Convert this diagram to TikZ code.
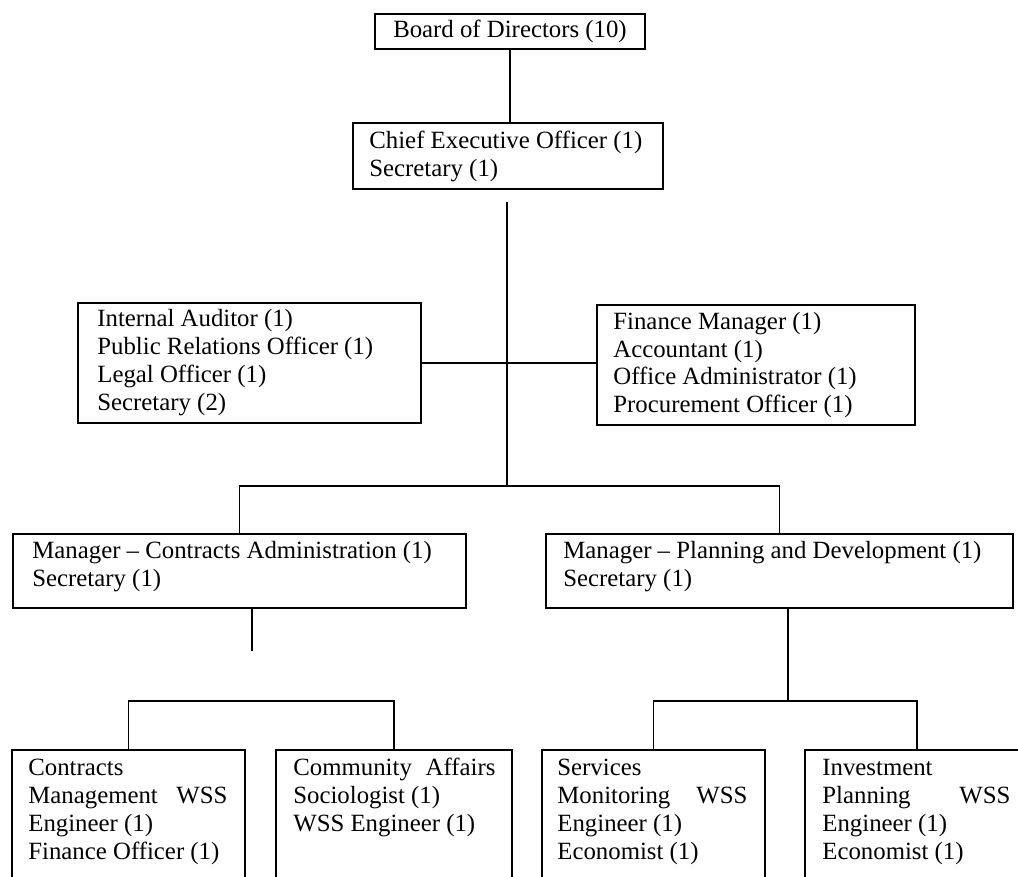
\documentclass[tikz,border=0pt]{standalone}
\usepackage{fontspec}
\setmainfont{Liberation Serif}
\begin{document}
\begin{tikzpicture}[x=0.5pt,y=-0.5pt,
  box/.style={draw, line width=0.8pt, inner sep=0pt},
  txt/.style={inner sep=0pt, anchor=base west, font=\fontsize{12.4pt}{14pt}\selectfont},
  conn/.style={line width=0.8pt}]
\clip (0,0) rectangle (1018,877);
% boxes
\node[box, minimum width=135pt, minimum height=17.5pt, font=\fontsize{12.4pt}{14pt}\selectfont] (board) at (510,31.5) {Board of Directors (10)};
\node[box, minimum width=155pt, minimum height=33pt] (ceo) at (508,156) {};
\node[box, minimum width=171.5pt, minimum height=60pt] (aud) at (249.5,363) {};
\node[box, minimum width=159pt, minimum height=60pt] (fin) at (756,365) {};
\node[box, minimum width=226.5pt, minimum height=37pt] (mca) at (239.5,571) {};
\node[box, minimum width=233.5pt, minimum height=37pt] (mpd) at (779.5,571) {};
\node[box, minimum width=116.5pt, minimum height=100pt] (cmw) at (128.5,850) {};
\node[box, minimum width=118pt, minimum height=100pt] (caf) at (394,850) {};
\node[box, minimum width=111.5pt, minimum height=100pt] (smw) at (653.5,850) {};
\node[box, minimum width=112pt, minimum height=100pt] (ipw) at (917,850) {};
% texts
\node[txt] (ceot) at (369,149) {\begin{tabular}[t]{@{}l@{}}Chief Executive Officer (1)\\Secretary (1)\end{tabular}};
\node[txt] (audt) at (97,327) {\begin{tabular}[t]{@{}l@{}}Internal Auditor (1)\\Public Relations Officer (1)\\Legal Officer (1)\\Secretary (2)\end{tabular}};
\node[txt] (fint) at (613,329) {\begin{tabular}[t]{@{}l@{}}Finance Manager (1)\\Accountant (1)\\Office Administrator (1)\\Procurement Officer (1)\end{tabular}};
\node[txt] (mcat) at (32,558) {\begin{tabular}[t]{@{}l@{}}Manager -- Contracts Administration (1)\\Secretary (1)\end{tabular}};
\node[txt] (mpdt) at (563,558) {\begin{tabular}[t]{@{}l@{}}Manager -- Planning and Development (1)\\Secretary (1)\end{tabular}};
\node[txt] (cmwt) at (28,775) {\begin{tabular}[t]{@{}l@{}}Contracts\\\makebox[99.5pt][s]{Management WSS}\\Engineer (1)\\Finance Officer (1)\end{tabular}};
\node[txt] (caft) at (293,775) {\begin{tabular}[t]{@{}l@{}}\makebox[101pt][s]{Community Affairs}\\Sociologist (1)\\WSS Engineer (1)\end{tabular}};
\node[txt] (smwt) at (557,775) {\begin{tabular}[t]{@{}l@{}}Services\\\makebox[95pt][s]{Monitoring WSS}\\Engineer (1)\\Economist (1)\end{tabular}};
\node[txt] (ipwt) at (822,775) {\begin{tabular}[t]{@{}l@{}}Investment\\\makebox[94pt][s]{Planning WSS}\\Engineer (1)\\Economist (1)\end{tabular}};
% connectors
\coordinate (sTop) at (507,202);
\coordinate (sBot) at (507,486);
\coordinate (mcaDown) at (252,651);
\coordinate (mpdDown) at (788,701);
\draw[conn] (board.south) -- (board.south |- ceo.north);
\draw[conn] (sTop) -- (sBot);
\draw[conn] (aud.east) -- (aud.east -| fin.west);
\draw[conn] (mca.north) |- (sBot) -| (mpd.north);
\draw[conn] (mca.south -| mcaDown) -- (mcaDown);
\draw[conn] (cmw.north) -- ++(0,-48) -| (caf.north);
\draw[conn] (mpd.south -| mpdDown) -- (mpdDown);
\draw[conn] (smw.north) |- (mpdDown) -| (ipw.north);
\end{tikzpicture}
\end{document}
